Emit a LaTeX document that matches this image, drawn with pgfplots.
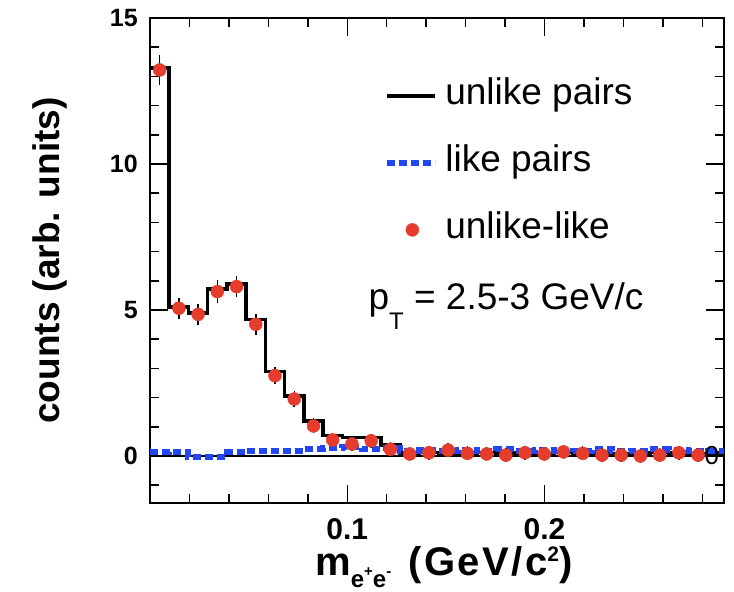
\documentclass[border=0pt]{standalone}
\usepackage{fontspec}
\setmainfont{Liberation Sans}
\usepackage{pgfplots}
\usepackage{pgfplotstable}
\pgfplotsset{compat=1.18}
\usetikzlibrary{calc}

\definecolor{unlikeRed}{RGB}{230,60,45}
\definecolor{likeBlue}{RGB}{35,70,245}

% unlike-sign pairs: bin left edge, content (last row closes the final bin)
\pgfplotstableread{
x y
0       13.29
0.00975 5.11
0.0195  4.89
0.02925 5.71
0.039   5.89
0.04875 4.68
0.0585  2.89
0.06825 2.05
0.078   1.20
0.08775 0.70
0.0975  0.64
0.10725 0.64
0.117   0.38
0.12675 0.10
0.1365  0.12
0.14625 0.08
0.156   0.10
0.16575 0.12
0.1755  0.08
0.18525 0.10
0.195   0.08
0.20475 0.12
0.2145  0.10
0.22425 0.06
0.234   0.08
0.24375 0.10
0.2535  0.12
0.26325 0.10
0.273   0.08
0.28275 0.10
0.2925  0.10
}\unlike

% like-sign pairs: bin left edge, content
\pgfplotstableread{
x y
0       0.12
0.00975 0.14
0.0195  -0.02
0.02925 -0.02
0.039   0.12
0.04875 0.18
0.0585  0.18
0.06825 0.18
0.078   0.24
0.08775 0.26
0.0975  0.32
0.10725 0.24
0.117   0.28
0.12675 0.18
0.1365  0.20
0.14625 0.18
0.156   0.22
0.16575 0.16
0.1755  0.24
0.18525 0.18
0.195   0.22
0.20475 0.16
0.2145  0.18
0.22425 0.24
0.234   0.16
0.24375 0.18
0.2535  0.24
0.26325 0.22
0.273   0.16
0.28275 0.18
0.2925  0.18
}\like

% unlike minus like: bin centre, value, error
\pgfplotstableread{
x y e
0.00488 13.22 0.38
0.01463 5.06 0.22
0.02438 4.85 0.22
0.03413 5.63 0.25
0.04388 5.80 0.22
0.05363 4.51 0.22
0.06338 2.75 0.15
0.07313 1.95 0.14
0.08288 1.03 0.12
0.09263 0.55 0.10
0.10238 0.41 0.10
0.11213 0.52 0.10
0.12188 0.23 0.10
0.13163 0.07 0.10
0.14138 0.11 0.10
0.15113 0.20 0.10
0.16088 0.09 0.10
0.17063 0.07 0.10
0.18038 0.03 0.10
0.19013 0.11 0.10
0.19988 0.07 0.10
0.20963 0.14 0.10
0.21938 0.09 0.10
0.22913 0.03 0.10
0.23888 0.03 0.10
0.24863 0.00 0.10
0.25838 0.03 0.10
0.26813 0.11 0.10
0.27788 0.03 0.10
}\diff

\pgfplotsset{
  dot legend/.style={
    legend image code/.code={\draw[mark repeat=2, mark phase=2, ##1] plot coordinates {(0bp,0bp) (25bp,0bp) (48bp,0bp)};}
  }
}

\begin{document}
\begin{tikzpicture}
\begin{axis}[
  scale only axis,
  width=574bp, height=485bp,
  xmin=0, xmax=0.291, ymin=-1.61, ymax=15,
  axis line style={line width=2bp},
  tick align=inside,
  xtick={0.1,0.2}, xticklabels={0.1,0.2},
  ytick={0,5,10,15}, yticklabels={0,5,10,15},
  minor xtick={0.02,0.04,0.06,0.08,0.12,0.14,0.16,0.18,0.22,0.24,0.26,0.28},
  minor ytick={-1,1,2,3,4,6,7,8,9,11,12,13,14},
  major tick length=18bp, minor tick length=9bp,
  every tick/.style={black, line width=1.5bp},
  xticklabel style={font=\fontsize{30bp}{30bp}\selectfont\bfseries, inner sep=0pt, anchor=north, yshift=-15bp},
  yticklabel style={font=\fontsize{25bp}{25bp}\selectfont\bfseries, inner sep=0pt, anchor=east, xshift=-12bp},
  xlabel={\addfontfeature{LetterSpace=6}m\raisebox{-12bp}{\fontsize{24bp}{24bp}\selectfont e\raisebox{11bp}{\fontsize{15bp}{15bp}\selectfont +}e\raisebox{11bp}{\fontsize{15bp}{15bp}\selectfont -}}\hspace{4bp} (GeV/c\raisebox{14bp}{\fontsize{21bp}{21bp}\selectfont 2})},
  ylabel={counts (arb. units)},
  every axis x label/.style={at={(axis description cs:0.2875,-0.1485)}, anchor=base west, inner sep=0pt, font=\fontsize{40bp}{40bp}\selectfont\bfseries},
  every axis y label/.style={at={(axis description cs:-0.1568,0.5)}, rotate=90, anchor=base, inner sep=0pt, font=\fontsize{37bp}{37bp}\selectfont\bfseries},
  legend style={at={(axis cs:0.1188,12.95)}, anchor=north west, draw=none, fill=none,
    inner sep=0pt, outer sep=0pt, row sep=31bp, column sep=7bp,
    font=\fontsize{37bp}{44bp}\selectfont,
    nodes={inner sep=0pt, text height=27bp, text depth=9bp}},
  legend cell align=left,
  legend image code/.code={\draw[#1] (0bp,0bp) -- (48bp,0bp);},
]
\addplot[const plot, black, line width=3.6bp] table[x=x, y=y] {\unlike};
\addlegendentry{unlike pairs}
\addplot[forget plot, black, line width=1.8bp] coordinates {(0,0) (0.291,0)};
\addplot[const plot, likeBlue, line width=6bp, dash pattern=on 8bp off 4bp] table[x=x, y=y] {\like};
\addlegendentry{like pairs}
\addplot[forget plot, draw=none, mark=none,
  error bars/.cd, y dir=both, y explicit,
  error bar style={black, line width=1.5bp},
  error mark options={black, line width=1.5bp, mark size=4bp}]
  table[x=x, y=y, y error=e] {\diff};
\addplot[only marks, mark=*, mark size=6.5bp, color=unlikeRed, mark options={draw=unlikeRed, fill=unlikeRed}, dot legend]
  table[x=x, y=y] {\diff};
\addlegendentry{unlike-like}
\node[anchor=base west, inner sep=0pt, font=\fontsize{37bp}{44bp}\selectfont]
  at (axis cs:0.1107,5.0) {p\raisebox{-20bp}{\fontsize{24bp}{24bp}\selectfont T} = 2.5-3 GeV/c};
\node[inner sep=0pt, font=\fontsize{26bp}{26bp}\selectfont] at (axis cs:0.2848,0) {0};
\end{axis}
\pgfresetboundingbox
\useasboundingbox ($(current axis.south west)+(-150bp,-89bp)$) rectangle ($(current axis.north east)+(10bp,18bp)$);
\end{tikzpicture}
\end{document}
